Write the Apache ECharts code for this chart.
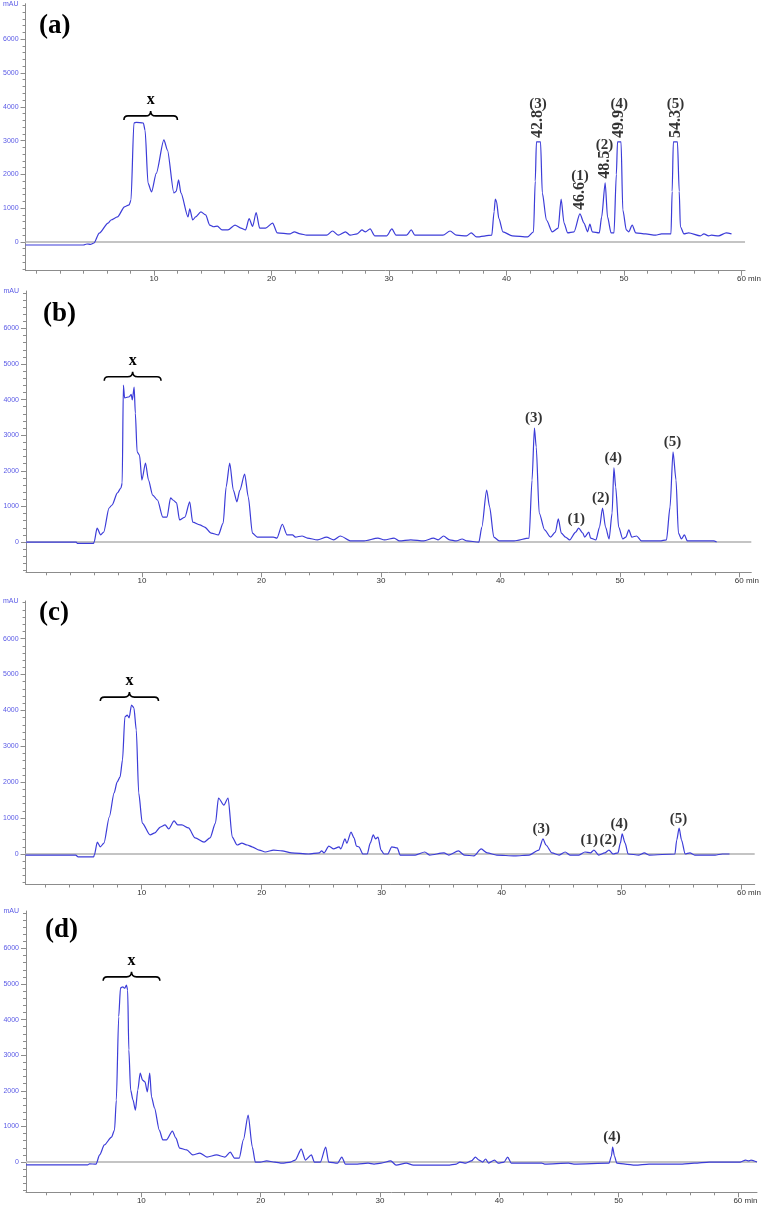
<!DOCTYPE html>
<html><head><meta charset="utf-8">
<script src="https://cdn.jsdelivr.net/npm/echarts@6/dist/echarts.min.js"></script>
<style>html,body{margin:0;padding:0;background:#fff}#c{width:764px;height:1209px}</style>
</head><body><div id="c"></div>
<script>
// ---------------- DATA ----------------
const panelTags = ['(a)', '(b)', '(c)', '(d)'];
const xTickLabels = [10, 20, 30, 40, 50, 60];
const xTickMinor = [0,2,4,6,8,10,12,14,16,18,20,22,24,26,28,30,32,34,36,38,40,42,44,46,48,50,52,54,56,58,60];
const yTickLabels = [0, 1000, 2000, 3000, 4000, 5000, 6000];
const yTickMinor = [-800,-600,-400,-200,0,200,400,600,800,1000,1200,1400,1600,1800,2000,2200,2400,2600,2800,3000,3200,3400,3600,3800,4000,4200,4400,4600,4800,5000,5200,5400,5600,5800,6000,6200,6400,6600,6800,7000];

// chromatogram traces [time (min), absorbance (mAU)]
const traceA = [[-0.92,-90],[4.0,-90],[4.3,-60],[4.6,-70],[4.9,-30],[5.35,260],[6.1,560],[6.35,650],[6.9,740],[7.5,1040],[7.9,1100],[8.05,1240],[8.3,3520],[8.5,3540],[9.1,3520],[9.25,3300],[9.5,1740],[9.8,1480],[10.2,2030],[10.85,3020],[11.15,2720],[11.7,1450],[11.9,1500],[12.1,1840],[12.3,1450],[12.9,740],[13.05,980],[13.3,650],[13.55,740],[14.0,890],[14.4,800],[14.75,500],[15.1,450],[15.4,470],[15.8,355],[16.3,355],[16.9,500],[17.4,410],[17.8,355],[18.1,690],[18.4,460],[18.7,870],[19.0,410],[19.5,410],[20.1,560],[20.5,270],[21.6,240],[21.95,300],[22.45,240],[23.0,200],[24.7,200],[25.2,325],[25.7,200],[26.3,300],[26.7,200],[27.3,240],[27.7,355],[28.0,300],[28.4,385],[28.8,180],[29.8,180],[30.25,385],[30.6,200],[31.5,200],[31.9,355],[32.2,200],[34.6,200],[35.2,325],[35.75,200],[36.6,180],[37.0,270],[37.45,150],[38.75,200],[38.95,900],[39.05,1270],[39.15,1200],[39.35,700],[39.7,300],[40.5,180],[41.8,150],[42.3,300],[42.45,1800],[42.55,2960],[42.9,2960],[43.05,1450],[43.4,650],[43.9,300],[44.4,410],[44.65,1270],[44.9,560],[45.2,270],[45.75,300],[46.25,830],[46.6,560],[46.9,300],[47.1,530],[47.3,300],[47.9,270],[48.1,740],[48.4,1750],[48.6,740],[48.9,270],[49.15,270],[49.35,2000],[49.45,2960],[49.75,2960],[49.9,950],[50.2,355],[50.4,300],[50.7,500],[51.0,270],[51.85,240],[52.7,200],[53.2,240],[54.0,240],[54.1,1500],[54.2,2960],[54.55,2960],[54.7,1500],[54.8,450],[55.1,240],[55.5,270],[56.5,180],[56.8,240],[57.2,180],[57.45,200],[58.05,180],[58.7,270],[59.15,240]];

const traceB = [[0.3,0],[4.5,0],[4.6,-40],[5.95,-40],[6.0,0],[6.25,390],[6.55,200],[6.8,280],[7.25,955],[7.5,1040],[7.95,1380],[8.25,1520],[8.35,1660],[8.45,4410],[8.55,4050],[8.95,4080],[9.1,4150],[9.2,3990],[9.35,4350],[9.45,3620],[9.6,2530],[9.8,2440],[10.0,1740],[10.3,2220],[10.55,1740],[10.9,1320],[11.3,1180],[11.75,700],[12.1,700],[12.4,1240],[12.6,1180],[12.9,1100],[13.15,620],[13.6,700],[14.0,1130],[14.25,560],[14.85,480],[15.25,420],[15.8,250],[16.4,200],[16.8,530],[17.05,1550],[17.35,2220],[17.65,1460],[17.95,1130],[18.2,1460],[18.6,1910],[18.9,1270],[19.25,250],[19.65,140],[21.0,140],[21.3,110],[21.75,500],[22.15,200],[22.6,200],[22.85,140],[23.4,170],[23.85,110],[24.7,60],[25.45,140],[26.05,60],[26.6,170],[27.5,30],[28.6,30],[29.75,110],[30.3,60],[31.1,110],[31.55,30],[32.5,60],[33.6,30],[34.4,110],[34.8,60],[35.25,170],[35.75,60],[36.3,30],[36.8,85],[37.2,30],[38.2,0],[38.45,420],[38.85,1460],[39.1,985],[39.45,140],[39.9,30],[41.15,30],[42.4,110],[42.65,1740],[42.85,3200],[43.0,2670],[43.25,815],[43.7,340],[44.2,140],[44.6,280],[44.85,650],[45.1,250],[45.45,140],[45.8,60],[46.3,280],[46.55,390],[46.9,250],[47.05,140],[47.4,280],[47.55,110],[48.0,60],[48.3,420],[48.55,955],[48.8,420],[49.1,85],[49.35,815],[49.5,2080],[49.65,1550],[49.9,420],[50.25,85],[50.5,140],[50.75,340],[51.0,140],[51.4,170],[51.8,30],[53.35,30],[53.9,60],[54.2,985],[54.45,2530],[54.7,1740],[54.9,250],[55.15,85],[55.4,200],[55.65,30],[57.85,30],[58.1,0]];

const traceC = [[0.32,-30],[4.5,-30],[4.7,-80],[6.0,-80],[6.05,-30],[6.3,330],[6.55,200],[6.85,300],[7.3,1030],[7.7,1700],[7.95,2000],[8.2,2150],[8.4,2620],[8.6,3820],[8.8,3870],[8.95,3790],[9.15,4150],[9.35,4070],[9.55,3450],[9.75,1700],[10.05,860],[10.7,530],[11.1,590],[11.55,750],[11.95,810],[12.25,700],[12.7,920],[13.0,810],[13.35,810],[13.9,725],[14.45,450],[15.2,330],[15.7,450],[16.15,860],[16.4,1560],[16.85,1360],[17.2,1560],[17.55,470],[17.95,250],[18.35,300],[18.8,250],[19.2,200],[19.8,110],[20.3,55],[21.0,110],[21.7,85],[22.5,30],[23.9,0],[24.8,30],[25.0,85],[25.2,30],[25.6,220],[26.0,140],[26.45,200],[26.6,140],[26.95,420],[27.1,300],[27.45,610],[27.7,450],[27.9,220],[28.1,200],[28.45,0],[28.8,0],[29.05,300],[29.3,530],[29.5,420],[29.7,470],[29.95,110],[30.2,0],[30.5,0],[30.85,200],[31.3,170],[31.55,-30],[32.8,-30],[33.6,55],[34.0,-30],[35.2,30],[35.6,-30],[36.4,85],[36.9,-30],[37.7,-55],[38.3,140],[38.8,30],[39.6,-30],[41.1,-55],[42.3,-30],[43.1,110],[43.45,420],[43.7,250],[44.2,30],[44.8,-30],[45.3,55],[45.7,-30],[46.45,-30],[46.95,55],[47.4,30],[47.7,110],[48.1,-30],[48.6,30],[48.95,110],[49.3,0],[49.7,30],[49.9,300],[50.05,560],[50.3,300],[50.55,0],[51.45,-30],[51.9,30],[52.3,-30],[54.45,0],[54.6,390],[54.8,720],[55.0,390],[55.3,0],[55.7,30],[56.1,-30],[57.8,-30],[58.4,0],[59.0,0]];

const traceD = [[0.33,-80],[5.5,-80],[5.65,-50],[6.2,-60],[6.5,200],[6.9,480],[7.5,700],[7.75,900],[7.9,1740],[8.1,4080],[8.25,4890],[8.45,4920],[8.6,4880],[8.75,4970],[8.85,4830],[8.95,3150],[9.1,2020],[9.3,1740],[9.5,1460],[9.7,2020],[9.9,2500],[10.1,2300],[10.3,2250],[10.5,1970],[10.7,2500],[10.85,1830],[11.1,1520],[11.5,900],[11.8,620],[12.1,620],[12.6,870],[12.9,670],[13.2,390],[13.8,340],[14.3,200],[14.9,250],[15.5,140],[16.3,200],[17.0,140],[17.45,280],[17.8,110],[18.2,110],[18.55,620],[18.95,1320],[19.3,420],[19.55,0],[19.95,0],[20.5,30],[21.2,0],[21.8,-30],[22.5,0],[22.9,56],[23.4,365],[23.75,56],[24.25,200],[24.5,0],[25.0,0],[25.45,420],[25.7,0],[26.45,-30],[26.8,140],[27.1,-56],[28.1,-56],[29.0,-30],[29.5,-56],[30.1,-30],[30.9,30],[31.35,-85],[32.2,-30],[32.8,-85],[34.3,-85],[35.7,-85],[36.4,-56],[36.7,0],[37.2,-30],[37.65,30],[38.0,140],[38.3,56],[38.6,0],[38.85,85],[39.1,-30],[39.6,56],[39.9,-30],[40.4,0],[40.7,140],[41.0,-30],[42.1,-30],[43.55,-30],[43.8,-56],[45.8,-30],[46.25,-56],[49.2,-30],[49.4,170],[49.5,420],[49.65,170],[49.85,-30],[50.55,-56],[51.4,-85],[52.55,-56],[55.35,-56],[56.35,-30],[57.6,0],[58.7,0],[59.55,0],[60.2,0],[60.65,56],[60.9,30],[61.1,56],[61.6,0]];

// peak annotations: [tag, retention label, time, peak height]
const peaksA = [['(3)','42.8',42.68,2960],['(1)','46.6',46.25,830],['(2)','48.5',48.35,1750],['(4)','49.9',49.6,2960],['(5)','54.3',54.38,2960]];
const peaksB = [['(3)','',42.8,3200],['(1)','',46.35,390],['(2)','',48.4,955],['(4)','',49.45,2080],['(5)','',54.4,2530]];
const peaksC = [['(3)','',43.3,420],['(1)','',47.3,110],['(2)','',48.9,110],['(4)','',49.8,560],['(5)','',54.75,720]];
const peaksD = [['(4)','',49.45,420]];

// brace over region "x": [start time, end time, level (mAU)]
const braceA = [7.45, 12.0, 3730];
const braceB = [6.85, 11.6, 4640];
const braceC = [6.55, 11.4, 4370];
const braceD = [6.8, 11.55, 5200];

// ---------------- LAYOUT / STYLE ----------------
const Y_MIN = -850, Y_MAX = 7050;
const layout = [
  {left:24, right:747.6, top:3.7,  bottom:270.7, xMin:-0.92, xMax:60.3, tagLeft:39, tagTop:13},
  {left:26, right:751.3, top:291.0, bottom:572.3, xMin:0.3,  xMax:61.0, tagLeft:43, tagTop:301},
  {left:23, right:754.7, top:600.9, bottom:884.5, xMin:0.32, xMax:61.1, tagLeft:39, tagTop:600},
  {left:26, right:757.0, top:911.0, bottom:1192.3, xMin:0.33, xMax:61.6, tagLeft:45, tagTop:917}
];
const traces = [traceA, traceB, traceC, traceD];
const peaks = [peaksA, peaksB, peaksC, peaksD];
const braces = [braceA, braceB, braceC, braceD];

const SERIF = '"Liberation Serif", "Times New Roman", serif';
const SANS = '"Liberation Sans", Arial, sans-serif';
const LINE_BLUE = '#3c3cd8';
const LABEL_BLUE = '#5a5ae6';
const AXIS_GRAY = '#8c8c8c';
const ZERO_GRAY = '#c4c4c4';

const chart = echarts.init(document.getElementById('c'), null, {renderer:'canvas'});
const grid = [], xAxis = [], yAxis = [], series = [], title = [];

layout.forEach((L, i) => {
  grid.push({left:L.left, top:L.top, width:L.right - L.left, height:L.bottom - L.top});
  title.push({text:panelTags[i], left:L.tagLeft, top:L.tagTop, padding:0,
    textStyle:{fontFamily:SERIF, fontWeight:'bold', fontSize:27, color:'#000'}});
  xAxis.push({type:'value', gridIndex:i, position:'bottom', min:L.xMin, max:L.xMax,
    axisLine:{show:true, onZero:false, lineStyle:{color:AXIS_GRAY, width:1}},
    axisTick:{show:true, customValues:xTickLabels, length:5, lineStyle:{color:AXIS_GRAY}},
    axisLabel:{show:true, customValues:xTickLabels, margin:4, fontSize:8, fontFamily:SANS, color:'#333',
      formatter: v => v === 60 ? '{h|}60 min' : String(v),
      rich:{h:{width:15}}},
    splitLine:{show:false}});
  xAxis.push({type:'value', gridIndex:i, position:'bottom', min:L.xMin, max:L.xMax,
    axisLine:{show:false, onZero:false},
    axisTick:{show:true, customValues:xTickMinor, length:3, lineStyle:{color:AXIS_GRAY}},
    axisLabel:{show:false}, splitLine:{show:false}});
  yAxis.push({type:'value', gridIndex:i, position:'left', min:Y_MIN, max:Y_MAX,
    name:'mAU', nameLocation:'end', nameGap:0,
    nameTextStyle:{fontSize:7, fontFamily:SANS, color:LABEL_BLUE, align:'right', verticalAlign:'middle', padding:[0,7,0,0]},
    axisLine:{show:true, onZero:false, lineStyle:{color:AXIS_GRAY, width:1}},
    axisTick:{show:true, customValues:yTickLabels, length:5, lineStyle:{color:AXIS_GRAY}},
    axisLabel:{show:true, customValues:yTickLabels, margin:7, fontSize:7, fontFamily:SANS, color:LABEL_BLUE,
      formatter: v => String(v)},
    splitLine:{show:false}});
  yAxis.push({type:'value', gridIndex:i, position:'left', min:Y_MIN, max:Y_MAX,
    axisLine:{show:false, onZero:false},
    axisTick:{show:true, customValues:yTickMinor, length:3, lineStyle:{color:AXIS_GRAY}},
    axisLabel:{show:false}, splitLine:{show:false}});

  const xi = 2 * i, yi = 2 * i;
  // zero baseline
  series.push({type:'line', xAxisIndex:xi, yAxisIndex:yi, data:[[L.xMin,0],[L.xMax,0]],
    showSymbol:false, symbol:'none', silent:true, z:1,
    lineStyle:{color:ZERO_GRAY, width:2}});
  // chromatogram
  series.push({type:'line', xAxisIndex:xi, yAxisIndex:yi, data:traces[i],
    showSymbol:false, symbol:'none', silent:true, z:2, smooth:0.25, smoothMonotone:'x',
    lineStyle:{color:LINE_BLUE, width:1.2}});
  // peak tags
  const hasRot = peaks[i].some(p => p[1] !== '');
  series.push({type:'scatter', xAxisIndex:xi, yAxisIndex:yi, symbolSize:0, silent:true, z:4,
    data: peaks[i].map(p => ({value:[p[2], p[3]], name:p[0]})),
    label:{show:true, position:'top', distance: hasRot ? 30 : 2,
      formatter: d => d.name, fontFamily:SERIF, fontWeight:'bold', fontSize:15, color:'#000'}});
  if (hasRot) {
    series.push({type:'scatter', xAxisIndex:xi, yAxisIndex:yi, symbolSize:0, silent:true, z:4,
      data: peaks[i].map(p => ({value:[p[2], p[3]], name:p[1]})),
      label:{show:true, position:'top', distance:4, rotate:90, align:'left', verticalAlign:'middle',
        formatter: d => d.name, fontFamily:SERIF, fontWeight:'bold', fontSize:16, color:'#000'}});
  }
  // brace with "x"
  series.push({type:'custom', xAxisIndex:xi, yAxisIndex:yi, silent:true, z:5,
    data:[braces[i]], encode:{x:[0,1], y:2},
    renderItem: (params, api) => {
      const p1 = api.coord([api.value(0), api.value(2)]);
      const p2 = api.coord([api.value(1), api.value(2)]);
      const y = p1[1], x1 = p1[0], x2 = p2[0], xm = (x1 + x2) / 2;
      const d = `M${x1},${y+4} Q${x1},${y} ${x1+4},${y} L${xm-5},${y} Q${xm},${y} ${xm},${y-5} Q${xm},${y} ${xm+5},${y} L${x2-4},${y} Q${x2},${y} ${x2},${y+4}`;
      return {type:'group', children:[
        {type:'path', shape:{pathData:d}, style:{stroke:'#000', fill:null, lineWidth:1.6}},
        {type:'text', style:{text:'x', x:xm, y:y-16, align:'center', verticalAlign:'middle',
          font:'bold 16px ' + SERIF, fill:'#000'}}
      ]};
    }});
});

chart.setOption({animation:false, backgroundColor:'#fff', title, grid, xAxis, yAxis, series});
</script></body></html>
